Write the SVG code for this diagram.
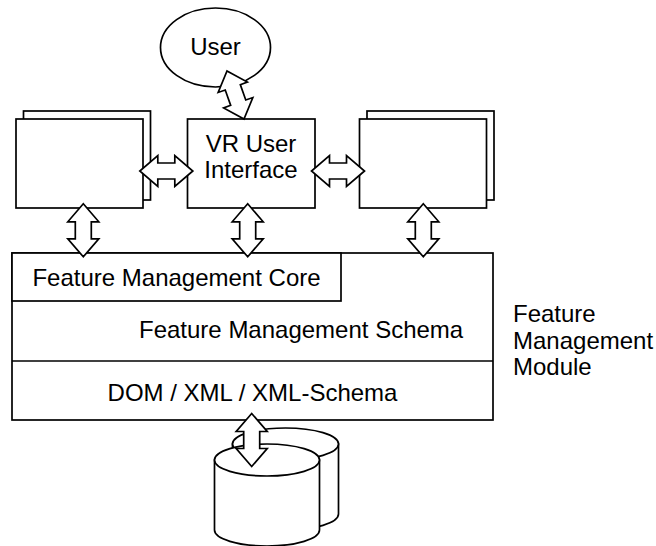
<svg xmlns="http://www.w3.org/2000/svg" width="656" height="546" viewBox="0 0 656 546">
<style>
.s{fill:#fff;stroke:#000;stroke-width:1.7}
.t{font-family:"Liberation Sans",Arial,sans-serif;font-size:24px;fill:#000}
.m{text-anchor:middle}
</style>
<defs>
<path id="dbl" d="M0,-26.5 L15.5,-8.5 L8,-8.5 L8,8.5 L15.5,8.5 L0,26.5 L-15.5,8.5 L-8,8.5 L-8,-8.5 L-15.5,-8.5 Z" class="s"/>
</defs>
<rect width="656" height="546" fill="#fff"/>
<g id="user">
<ellipse class="s" cx="215.5" cy="47.5" rx="55" ry="39.5"/>
<text class="t m" x="215.5" y="55">User</text>
</g>
<g id="left-stack">
<rect class="s" x="23.5" y="111" width="127" height="89"/>
<rect class="s" x="16" y="119" width="127" height="89"/>
</g>
<g id="vr-ui">
<rect class="s" x="187.5" y="119" width="127.5" height="89"/>
<text class="t m" x="251" y="152">VR User</text>
<text class="t m" x="251" y="177.5">Interface</text>
</g>
<g id="right-stack">
<rect class="s" x="367" y="111" width="127" height="89"/>
<rect class="s" x="359.5" y="119" width="127" height="89"/>
</g>
<g id="module">
<rect class="s" x="12" y="253" width="481" height="167"/>
<rect class="s" x="12" y="253" width="329" height="48"/>
<line class="s" x1="12" y1="361" x2="493" y2="361"/>
<text class="t m" x="176.5" y="286">Feature Management Core</text>
<text class="t" x="139" y="338">Feature Management Schema</text>
<text class="t m" x="252.5" y="401">DOM / XML / XML-Schema</text>
</g>
<g id="module-label">
<text class="t" x="513" y="322">Feature</text>
<text class="t" x="513" y="348.5">Management</text>
<text class="t" x="513" y="375">Module</text>
</g>
<g id="database">
<path class="s" d="M232.5,444 L232.5,514 A53,16 0 0 0 338.5,514 L338.5,444 Z"/>
<ellipse class="s" cx="285.5" cy="444" rx="53" ry="16"/>
<path class="s" d="M214.5,460 L214.5,530 A52.5,16 0 0 0 319.5,530 L319.5,460 Z"/>
<ellipse class="s" cx="267" cy="460" rx="52.5" ry="16"/>
</g>
<g id="connectors">
<use href="#dbl" transform="translate(235.5,95) rotate(-19.5) scale(1,0.96)"/>
<use href="#dbl" transform="translate(166.3,171) rotate(90)"/>
<use href="#dbl" transform="translate(338,171) rotate(90)"/>
<use href="#dbl" transform="translate(83.3,230.3)"/>
<use href="#dbl" transform="translate(247.7,230.3)"/>
<use href="#dbl" transform="translate(423.3,230.3)"/>
<use href="#dbl" transform="translate(251.7,440)"/>
</g>
</svg>
